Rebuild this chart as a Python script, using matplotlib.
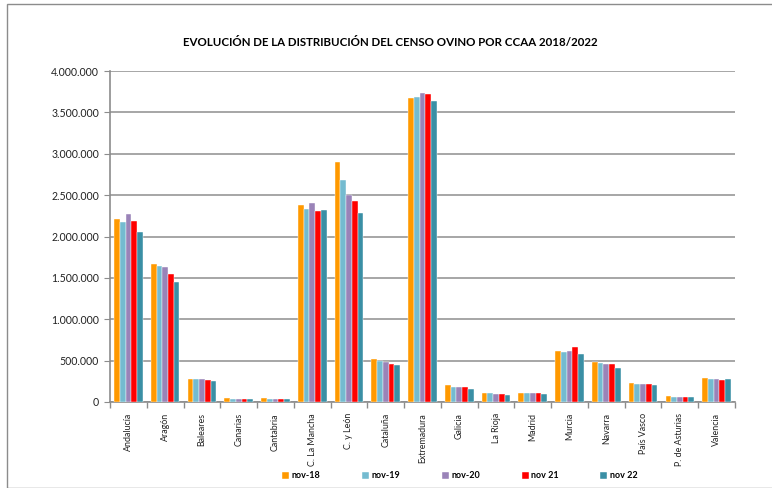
import matplotlib
matplotlib.use("Agg")
import matplotlib.pyplot as plt
import numpy as np
from matplotlib.patches import Rectangle
from matplotlib.ticker import FuncFormatter, MultipleLocator, FixedLocator

plt.rcParams['font.family'] = ['Lato', 'DejaVu Sans']

categories = ["Andalucía", "Aragón", "Baleares", "Canarias", "Cantabria", "C. La Mancha",
              "C. y León", "Cataluña", "Extremadura", "Galicia", "La Rioja", "Madrid",
              "Murcia", "Navarra", "País Vasco", "P. de Asturias", "Valencia"]
series_names = ["nov-18", "nov-19", "nov-20", "nov 21", "nov 22"]
nov18 = [2206000, 1669000, 282000, 48000, 48000, 2379000, 2899000, 520000, 3673000,
         202000, 109000, 109000, 617000, 480000, 230000, 69000, 290000]
nov19 = [2177000, 1649000, 282000, 40000, 40000, 2335000, 2685000, 500000, 3690000,
         185000, 109000, 109000, 605000, 472000, 218000, 56000, 282000]
nov20 = [2274000, 1629000, 274000, 36000, 40000, 2407000, 2500000, 484000, 3734000,
         181000, 97000, 109000, 617000, 464000, 218000, 56000, 282000]
nov21 = [2185000, 1544000, 270000, 36000, 40000, 2310000, 2427000, 460000, 3722000,
         181000, 97000, 105000, 665000, 456000, 214000, 56000, 270000]
nov22 = [2052000, 1456000, 254000, 36000, 36000, 2323000, 2286000, 444000, 3641000,
         157000, 89000, 97000, 577000, 415000, 206000, 56000, 274000]
series = [nov18, nov19, nov20, nov21, nov22]
colors = ["#FF9900", "#74BBD0", "#9A83B8", "#FF0000", "#3A8FA5"]

title = "EVOLUCIÓN DE LA DISTRIBUCIÓN DEL CENSO OVINO POR CCAA 2018/2022"

fig = plt.figure(figsize=(7.72, 4.88), dpi=100)
W, H = 772, 488
# outer chart border
fig.patches.append(Rectangle((7 / W, 0), 1.2, 1 - 4 / H, transform=fig.transFigure,
                             fill=False, edgecolor="#8C8C8C", linewidth=1.0))

ax = fig.add_axes([110 / W, 1 - 402 / H, 625 / W, (402 - 71) / H])
n = len(categories)
x = np.arange(n)
bw = 0.156
for i, (vals, c) in enumerate(zip(series, colors)):
    ax.bar(x + (i - 2) * bw, vals, width=bw, color=c, edgecolor="white",
           linewidth=0.3, label=series_names[i], zorder=3)

ax.set_xlim(-0.5, n - 0.5)
ax.set_ylim(0, 4000000)
ax.yaxis.set_major_locator(MultipleLocator(500000))
ax.yaxis.set_major_formatter(FuncFormatter(lambda v, p: f"{int(v):,}".replace(",", ".")))
ax.grid(axis="y", color="#A6A6A6", linewidth=1.4, zorder=0)
ax.set_axisbelow(True)
for s in ["top", "right"]:
    ax.spines[s].set_visible(False)
for s in ["left", "bottom"]:
    ax.spines[s].set_color("#8C8C8C")
    ax.spines[s].set_linewidth(1.2)
ax.tick_params(axis="y", length=4, color="#8C8C8C", labelsize=7.6, pad=4, labelcolor="#222222")

ax.set_xticks(x)
ax.set_xticklabels(categories, rotation=90, fontsize=6.4, color="#222222")
ax.tick_params(axis="x", which="major", length=0, pad=8)
ax.xaxis.set_minor_locator(FixedLocator(np.arange(n + 1) - 0.5))
ax.tick_params(axis="x", which="minor", length=4, color="#8C8C8C", width=1.0)

fig.text(390 / W, 1 - 43 / H, title, ha="center", va="center", fontsize=8.3,
         fontweight="bold", color="black")

handles, labels = ax.get_legend_handles_labels()
leg = fig.legend(handles, labels, loc="center", bbox_to_anchor=(460 / W, 1 - 476 / H),
                 ncol=5, frameon=False, handlelength=0.75, handleheight=0.75,
                 handletextpad=0.3, columnspacing=4.6, prop={"weight": "bold", "size": 6.5})

fig.savefig("out.png", dpi=100)
